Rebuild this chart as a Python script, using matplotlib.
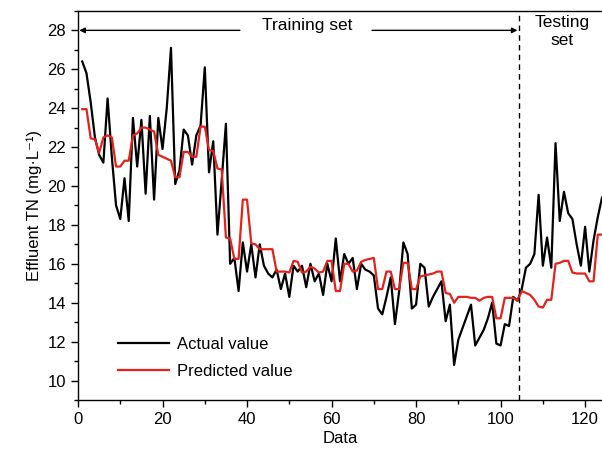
import numpy as np
import matplotlib
matplotlib.use('Agg')
import matplotlib.pyplot as plt
from matplotlib.ticker import MultipleLocator

plt.rcParams['font.family'] = ['Liberation Sans', 'DejaVu Sans']
plt.rcParams['font.size'] = 11

# 样本序号
data_idx = np.arange(1, 125)

# 实测值
actual = [26.4, 25.8, 24.3, 22.5, 21.6, 21.2, 24.5, 21.5, 19.0, 18.3,
          20.4, 18.2, 23.5, 21.0, 23.4, 19.6, 23.6, 19.3, 23.5, 21.9,
          24.0, 27.1, 20.1, 20.8, 22.9, 22.6, 21.1, 22.6, 23.1, 26.1,
          20.7, 22.3, 17.5, 20.3, 23.2, 16.0, 16.3, 14.6, 17.1, 15.6,
          17.0, 15.3, 17.0, 15.9, 15.5, 15.3, 15.7, 14.7, 15.5, 14.3,
          15.9, 15.6, 15.9, 14.8, 16.0, 15.1, 15.5, 14.4, 16.0, 15.1,
          17.3, 15.1, 16.5, 16.0, 16.3, 14.7, 16.0, 15.7, 15.6, 15.4,
          13.7, 13.4, 14.3, 15.3, 12.9, 14.6, 17.1, 16.5, 13.7, 13.9,
          16.0, 15.8, 13.8, 14.3, 14.7, 15.1, 13.05, 13.9, 10.8, 12.1,
          12.7, 13.3, 13.9, 11.8, 12.2, 12.6, 13.2, 14.0, 11.9, 11.8,
          12.9, 12.8, 14.3, 14.1, 14.7, 15.8, 16.0, 16.5, 19.55, 15.9,
          17.35, 15.8, 22.2, 18.2, 19.7, 18.6, 18.3, 17.0, 15.9, 17.9,
          15.6, 17.2, 18.4, 19.4]

# 预测值
predicted = [23.95, 23.95, 22.45, 22.4, 21.7, 22.5, 22.6, 22.5, 21.0, 21.0,
             21.3, 21.3, 22.6, 22.7, 23.0, 23.0, 22.9, 22.8, 21.6, 21.5,
             21.4, 21.3, 20.45, 20.45, 21.75, 21.75, 21.5, 21.5, 23.05, 23.05,
             21.85, 21.8, 20.9, 20.85, 17.35, 17.3, 16.25, 16.25, 19.3, 19.3,
             17.05, 17.0, 16.75, 16.75, 16.75, 16.75, 15.6, 15.6, 15.6, 15.55,
             16.15, 16.1, 15.55, 15.6, 15.85, 15.75, 15.55, 15.6, 16.15, 16.15,
             14.6, 14.6, 16.0, 16.0, 15.6, 15.65, 16.1, 16.2, 16.25, 16.3,
             14.7, 14.7, 15.6, 15.6, 14.7, 14.7, 16.05, 16.05, 14.7, 14.7,
             15.35, 15.4, 15.45, 15.5, 15.6, 15.6, 14.5, 14.45, 14.0, 14.3,
             14.3, 14.3, 14.25, 14.25, 14.1, 14.25, 14.3, 14.3, 13.2, 13.2,
             14.25, 14.25, 14.25, 14.1, 14.6, 14.5, 14.4, 14.15, 13.8, 13.75,
             14.15, 14.15, 16.0, 16.05, 16.15, 16.15, 15.55, 15.5, 15.5, 15.5,
             15.1, 15.1, 17.5, 17.5]

split_x = 104.4

fig = plt.figure(figsize=(6.02, 4.54), dpi=100)
ax = fig.add_axes([0.1296, 0.119, 0.8704, 0.857])

ax.plot(data_idx, actual, color='black', lw=1.6, label='Actual value')
ax.plot(data_idx, predicted, color='#e3221c', lw=1.6, label='Predicted value')
ax.axvline(split_x, color='black', lw=1.0, ls=(0, (4, 3)))

ax.set_xlim(0, 124)
ax.set_ylim(9, 29)
ax.xaxis.set_major_locator(MultipleLocator(20))
ax.xaxis.set_minor_locator(MultipleLocator(10))
ax.yaxis.set_major_locator(MultipleLocator(2))
ax.yaxis.set_minor_locator(MultipleLocator(1))
ax.tick_params(which='major', direction='out', length=5, width=1, labelsize=12)
ax.tick_params(which='minor', direction='out', length=3, width=1)
ax.spines['right'].set_visible(False)
for s in ['left', 'bottom', 'top']:
    ax.spines[s].set_linewidth(1.0)

ax.set_xlabel('Data', fontsize=12, labelpad=3)
ax.set_ylabel('Effluent TN (mg·L⁻¹)', fontsize=12, labelpad=4)

# 训练集 / 测试集 标注
arrow_kw = dict(arrowstyle='-|>', color='black', lw=1.0,
                mutation_scale=8, shrinkA=0, shrinkB=0)
ax.annotate('', xy=(0.3, 28), xytext=(38.3, 28), arrowprops=arrow_kw)
ax.annotate('', xy=(split_x - 0.4, 28), xytext=(69.6, 28), arrowprops=arrow_kw)
ax.text(54.2, 28.25, 'Training set', ha='center', va='center', fontsize=12.5)
ax.text(114.6, 27.95, 'Testing\nset', ha='center', va='center', fontsize=12.5,
        linespacing=1.3)

ax.legend(loc='lower left', bbox_to_anchor=(0.047, 0.015), frameon=False,
          fontsize=12, handlelength=3.1, labelspacing=0.75, handletextpad=0.45)

fig.savefig('out.png', dpi=100)
